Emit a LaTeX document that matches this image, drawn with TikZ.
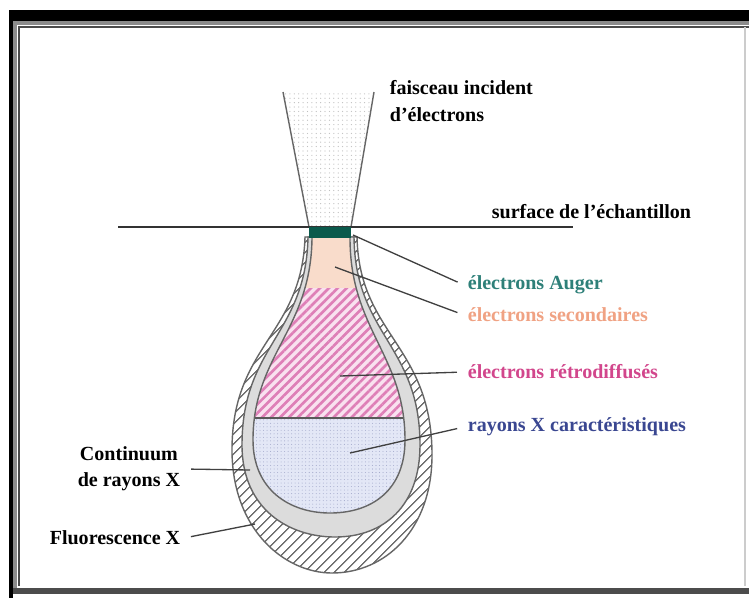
\documentclass[tikz,border=0pt]{standalone}
\usepackage{fontspec}
\setmainfont{Liberation Serif}
\usepackage{tikz}
\usetikzlibrary{patterns.meta}

\definecolor{augerband}{HTML}{0B5A4C}
\definecolor{augertext}{HTML}{2E8079}
\definecolor{peach}{HTML}{F9DCCB}
\definecolor{secondtext}{HTML}{F0A283}
\definecolor{pinkfill}{HTML}{F9E1EF}
\definecolor{pinkline}{HTML}{DE7FB7}
\definecolor{backtext}{HTML}{D2468C}
\definecolor{bluefill}{HTML}{E3E7F6}
\definecolor{xraytext}{HTML}{3A4791}
\definecolor{shellgray}{HTML}{DCDCDC}

\tikzset{
    lbl/.style={font=\fontsize{11.4}{15}\selectfont\bfseries, inner sep=2pt},
    leader/.style={draw=black!75, line width=0.75pt, shorten >=4pt},
    outline/.style={draw=black!60, line width=0.8pt},
}

\begin{document}
\begin{tikzpicture}[x=0.02cm, y=-0.02cm]
    \useasboundingbox[fill=white] (0,0) rectangle (749,599);

    % Frame
    \fill[black] (9,10) rectangle (749,21);
    \fill[black] (9,10) rectangle (13,598);
    \fill[black!70] (13,588) rectangle (749,594);
    \draw[black!45, line width=2pt] (15,588) -- (15,23) -- (749,23);
    \draw[black!70, line width=1pt] (19,586) -- (19,27) -- (749,27);
    \draw[black!20, line width=1pt] (745,27) -- (745,586);

    % Fluorescence X (outer shell)
    \draw[outline, preaction={fill=white},
          pattern={Lines[angle=45, distance=4pt, line width=0.8pt]}, pattern color=black!55]
        (305,237) .. controls (302,335) and (232,345) .. (232,450)
        .. controls (232,530) and (285,573) .. (332,573)
        .. controls (385,573) and (432,530) .. (432,455)
        .. controls (432,345) and (359,335) .. (357,237) -- cycle;

    % Continuum (gray shell)
    \draw[outline, fill=shellgray]
        (308,237) .. controls (306,335) and (242,345) .. (242,445)
        .. controls (242,510) and (290,537) .. (335,537)
        .. controls (385,537) and (420,505) .. (420,445)
        .. controls (420,345) and (355,335) .. (354,237) -- cycle;

    % Inner pear: secondary, backscattered, characteristic X
    \begin{scope}
        \clip (312,238) .. controls (311,330) and (253,355) .. (253,440)
            .. controls (253,490) and (290,513) .. (330,513)
            .. controls (372,513) and (405,490) .. (405,440)
            .. controls (405,355) and (350,330) .. (350,238) -- cycle;
        \fill[peach] (200,230) rectangle (450,288);
        \fill[pinkfill] (200,288) rectangle (450,418);
        \fill[pattern={Lines[angle=45, distance=3.6pt, line width=1.5pt]}, pattern color=pinkline]
            (200,288) rectangle (450,418);
        \fill[bluefill] (200,418) rectangle (450,520);
        \fill[pattern={Dots[distance=2pt, radius=0.3pt]}, pattern color=xraytext!45]
            (200,418) rectangle (450,520);
        \draw[black!65, line width=0.8pt] (200,418) -- (450,418);
    \end{scope}
    \draw[outline]
        (312,238) .. controls (311,330) and (253,355) .. (253,440)
        .. controls (253,490) and (290,513) .. (330,513)
        .. controls (372,513) and (405,490) .. (405,440)
        .. controls (405,355) and (350,330) .. (350,238);

    % Incident beam
    \fill[pattern={Dots[distance=2.5pt, radius=0.35pt]}, pattern color=black!25]
        (283,92) -- (374,92) -- (351,227) -- (309,227) -- cycle;
    \draw[black!60, line width=0.8pt] (283,92) -- (309,227);
    \draw[black!60, line width=0.8pt] (374,92) -- (351,227);

    % Sample surface and Auger layer
    \draw[black!80, line width=1pt] (118,227) -- (573,227);
    \fill[augerband] (309,227) rectangle (351,238);

    % Labels
    \node[lbl, anchor=west, align=left] (beam) at (386,101) {faisceau incident\\d'électrons};
    \node[lbl, anchor=west] (surface) at (488,212) {surface de l'échantillon};
    \node[lbl, anchor=west, text=augertext] (auger) at (464,285) {électrons Auger};
    \node[lbl, anchor=west, text=secondtext] (second) at (464,315) {électrons secondaires};
    \node[lbl, anchor=west, text=backtext] (back) at (464,372) {électrons rétrodiffusés};
    \node[lbl, anchor=west, text=xraytext] (xray) at (464,427) {rayons X caractéristiques};
    \node[lbl, anchor=east, align=center] (contin) at (184,469) {Continuum\\de rayons X};
    \node[lbl, anchor=east] (fluo) at (184,538) {Fluorescence X};

    % Leader lines
    \coordinate (augerpt) at (353,235);
    \coordinate (secondpt) at (335,267);
    \coordinate (backpt) at (340,376);
    \coordinate (xraypt) at (350,453);
    \coordinate (continpt) at (250,470);
    \coordinate (fluopt) at (255,524);
    \draw[leader] (augerpt) -- (auger.west);
    \draw[leader] (secondpt) -- (second.west);
    \draw[leader] (backpt) -- (back.west);
    \draw[leader] (xraypt) -- (xray.west);
    \draw[leader, shorten >=0pt, shorten <=4pt] (contin.east) -- (continpt);
    \draw[leader, shorten >=0pt, shorten <=4pt] (fluo.east) -- (fluopt);

\end{tikzpicture}
\end{document}
